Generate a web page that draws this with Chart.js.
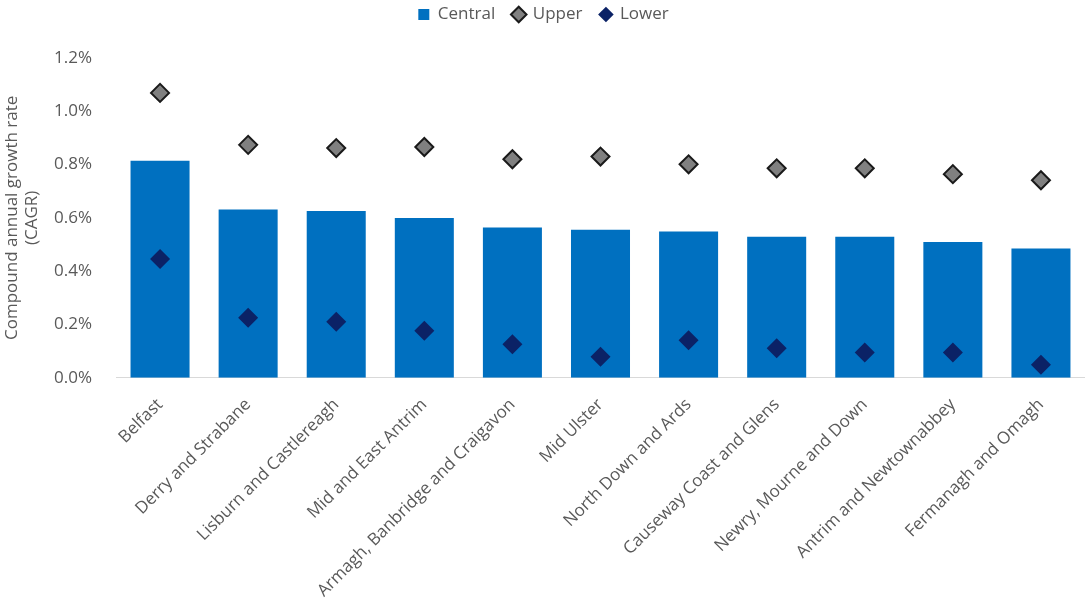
<!DOCTYPE html>
<html>
<head>
<meta charset="utf-8">
<script src="https://cdn.jsdelivr.net/npm/chart.js@4/dist/chart.umd.min.js"></script>
<style>
  html, body { margin: 0; padding: 0; background: #fff; }
  #wrap { width: 1085px; height: 606px; }
</style>
</head>
<body>
<div id="wrap"><canvas id="cagr" width="1085" height="606"></canvas></div>
<script>
// Local government districts, ordered by central projection
const districts = [
  'Belfast', 'Derry and Strabane', 'Lisburn and Castlereagh', 'Mid and East Antrim',
  'Armagh, Banbridge and Craigavon', 'Mid Ulster', 'North Down and Ards',
  'Causeway Coast and Glens', 'Newry, Mourne and Down', 'Antrim and Newtownabbey',
  'Fermanagh and Omagh'
];

// CAGR, in percent
const central = [0.814, 0.631, 0.626, 0.599, 0.564, 0.555, 0.549, 0.529, 0.529, 0.509, 0.485];
const upper   = [1.069, 0.874, 0.862, 0.866, 0.820, 0.830, 0.801, 0.786, 0.786, 0.764, 0.741];
const lower   = [0.446, 0.225, 0.210, 0.176, 0.126, 0.079, 0.141, 0.111, 0.095, 0.095, 0.049];

const yTicks = [0, 0.2, 0.4, 0.6, 0.8, 1.0, 1.2];

const textGrey = '#595959';
const font = { family: '"Open Sans", sans-serif', size: 17 };

// markers sit inside the categories, so the plot needs no extra room for them
Chart.registry.getController('line').prototype.getMaxOverflow = function () { return 0; };

// leave a gap between the legend and the plot
const legendGap = {
  id: 'legendGap',
  beforeInit(chart) {
    const fit = chart.legend.fit;
    chart.legend.fit = function () {
      fit.call(this);
      this.height += 25;
    };
  }
};

const ctx = document.getElementById('cagr').getContext('2d');
new Chart(ctx, {
  type: 'bar',
  data: {
    labels: districts,
    datasets: [
      {
        label: 'Central',
        data: central,
        backgroundColor: '#0070c0',
        borderWidth: 0,
        pointStyle: 'rect',
        barPercentage: 0.67,
        categoryPercentage: 1,
        order: 2
      },
      {
        label: 'Upper',
        type: 'line',
        data: upper,
        showLine: false,
        pointStyle: 'rectRot',
        pointRadius: 9,
        pointHoverRadius: 9,
        pointBackgroundColor: '#808080',
        pointBorderColor: '#1a1a1a',
        pointBorderWidth: 2,
        backgroundColor: '#808080',
        borderColor: '#1a1a1a',
        order: 1
      },
      {
        label: 'Lower',
        type: 'line',
        data: lower,
        showLine: false,
        pointStyle: 'rectRot',
        pointRadius: 10,
        pointHoverRadius: 10,
        pointBackgroundColor: '#0b2266',
        pointBorderColor: '#0b2266',
        pointBorderWidth: 0,
        backgroundColor: '#0b2266',
        borderColor: '#0b2266',
        order: 0
      }
    ]
  },
  plugins: [legendGap],
  options: {
    responsive: false,
    animation: false,
    layout: { padding: { left: 0, right: -2, top: -12, bottom: -12 } },
    plugins: {
      tooltip: { enabled: false },
      legend: {
        position: 'top',
        labels: {
          usePointStyle: true,
          boxWidth: 11,
          boxHeight: 11,
          padding: 18,
          color: textGrey,
          font: font,
          sort: (a, b) => a.datasetIndex - b.datasetIndex
        }
      }
    },
    scales: {
      x: {
        grid: { drawOnChartArea: false, drawTicks: false },
        border: { color: '#d9d9d9', width: 1 },
        afterFit: (scale) => { scale.paddingLeft = 0; scale.paddingRight = 0; },
        ticks: {
          color: textGrey,
          font: font,
          minRotation: 45,
          maxRotation: 45,
          autoSkip: false,
          padding: 17
        }
      },
      y: {
        min: 0,
        max: 1.2,
        afterBuildTicks: (scale) => { scale.ticks = yTicks.map(v => ({ value: v })); },
        afterFit: (scale) => { scale.width = 116; },
        grid: { display: false },
        border: { display: false },
        ticks: {
          color: textGrey,
          font: font,
          padding: 16,
          callback: (v) => v.toFixed(1) + '%'
        },
        title: {
          display: true,
          text: ['Compound annual growth rate', '(CAGR)'],
          color: textGrey,
          font: font,
          padding: { top: 2, bottom: 4 }
        }
      }
    }
  }
});
</script>
</body>
</html>
